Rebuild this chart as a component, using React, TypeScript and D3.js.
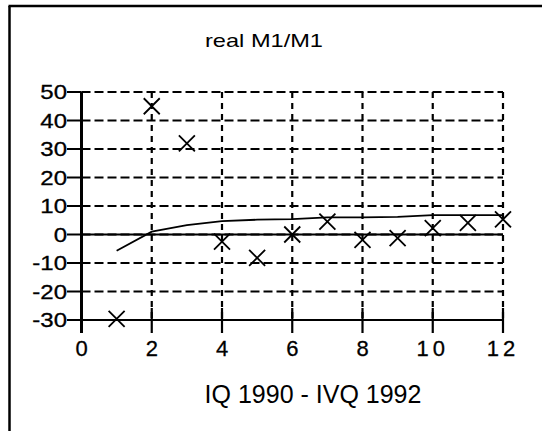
import React from "react";
import * as d3 from "d3";

// quarters IQ 1990 .. IVQ 1992
const quarters = [1, 2, 3, 4, 5, 6, 7, 8, 9, 10, 11, 12];
const observed = [-29.6, 45, 32, -2.5, -8.2, 0, 4.5, -1.9, -1.3, 2.2, 4.1, 5.3];
const fitted = [-5.7, 1, 3.3, 4.7, 5.2, 5.4, 6.0, 6.0, 6.2, 6.8, 6.8, 6.8];
const xTicks = [0, 2, 4, 6, 8, 10, 12];
const yTicks = [-30, -20, -10, 0, 10, 20, 30, 40, 50];

const W = 542;
const H = 431;
const font = "'Liberation Sans', Arial, sans-serif";

const App = () => {
	const x = d3.scaleLinear().domain([0, 12]).range([81.5, 503]);
	const y = d3.scaleLinear().domain([-30, 50]).range([320, 92]);

	const line = d3
		.line<number>()
		.x((d, i) => x(quarters[i]))
		.y((d) => y(d));

	const m = 8;

	return (
		<svg
			width={W}
			height={H}
			style={{ position: "absolute", left: 0, top: 0, background: "#fff" }}
		>
			{/* frame */}
			<line x1={9.5} y1={6} x2={9.5} y2={H} stroke="#000" strokeWidth={2.5} />
			<line x1={8.5} y1={6} x2={W} y2={6} stroke="#000" strokeWidth={2.5} />

			<text
				x={264}
				y={47}
				textAnchor="middle"
				fontFamily={font}
				fontSize={19}
				textLength={118}
				lengthAdjust="spacingAndGlyphs"
			>
				real M1/M1
			</text>

			{/* grid */}
			{yTicks
				.filter((t) => t > -30)
				.map((t) => (
					<line
						key={"gy" + t}
						x1={x(0)}
						x2={x(12)}
						y1={y(t)}
						y2={y(t)}
						stroke="#000"
						strokeWidth={2.2}
						strokeDasharray="9,4"
					/>
				))}
			{xTicks
				.filter((t) => t > 0)
				.map((t) => (
					<line
						key={"gx" + t}
						x1={x(t)}
						x2={x(t)}
						y1={y(50)}
						y2={y(-30)}
						stroke="#000"
						strokeWidth={2.2}
						strokeDasharray="6,5"
					/>
				))}

			{/* axes */}
			<line x1={x(0)} x2={x(12)} y1={y(-30)} y2={y(-30)} stroke="#000" strokeWidth={2.2} />
			<line x1={x(0)} x2={x(0)} y1={y(50)} y2={333} stroke="#000" strokeWidth={3} />
			{yTicks.map((t) => (
				<g key={"ty" + t}>
					<line x1={67} x2={x(0)} y1={y(t)} y2={y(t)} stroke="#000" strokeWidth={2} />
					<g transform={`translate(67,${y(t)}) scale(1.2,1)`}>
						<text
							dy="0.36em"
							textAnchor="end"
							fontFamily={font}
							fontSize={20}
							stroke="#000"
							strokeWidth={0.3}
						>
							{t}
						</text>
					</g>
				</g>
			))}
			{xTicks.map((t) => (
				<g key={"tx" + t}>
					<line x1={x(t)} x2={x(t)} y1={308} y2={333} stroke="#000" strokeWidth={2.2} />
					<text
						x={x(t)}
						y={356}
						textAnchor="middle"
						fontFamily={font}
						fontSize={22}
						letterSpacing={t >= 10 ? 4 : 0}
						stroke="#000"
						strokeWidth={0.3}
					>
						{t}
					</text>
				</g>
			))}

			<text x={313} y={403} textAnchor="middle" fontFamily={font} fontSize={25}>
				IQ 1990 - IVQ 1992
			</text>

			{/* zero line and fitted curve */}
			<line x1={x(0)} x2={x(12)} y1={y(0)} y2={y(0)} stroke="#000" strokeWidth={1.8} />
			<path d={line(fitted) || ""} fill="none" stroke="#000" strokeWidth={1.8} />

			{/* observations */}
			{observed.map((v, i) => {
				const cx = x(quarters[i]);
				const cy = y(v);
				return (
					<path
						key={"p" + i}
						d={`M${cx - m},${cy - m}L${cx + m},${cy + m}M${cx - m},${cy + m}L${cx + m},${cy - m}`}
						stroke="#000"
						strokeWidth={1.8}
						fill="none"
					/>
				);
			})}
		</svg>
	);
};

export default App;
